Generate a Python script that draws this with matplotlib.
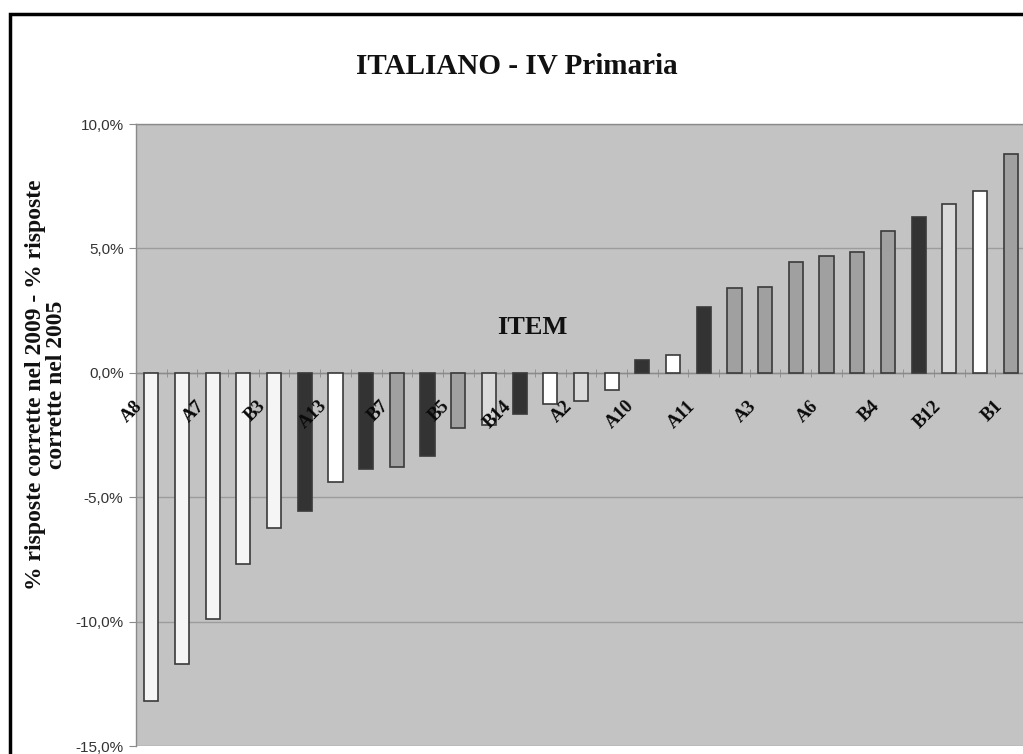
import matplotlib
matplotlib.use("Agg")
import matplotlib.pyplot as plt
from matplotlib.patches import Rectangle
from matplotlib.transforms import ScaledTranslation
from matplotlib.ticker import FuncFormatter

# ---------------- data ----------------
values = [-13.2, -11.7, -9.9, -7.7, -6.25, -5.55, -4.4, -3.85, -3.8, -3.35,
          -2.2, -2.1, -1.65, -1.25, -1.15, -0.7, 0.5, 0.7, 2.65, 3.4,
          3.45, 4.45, 4.7, 4.85, 5.7, 6.25, 6.8, 7.3, 8.8]
# item group of each bar (drives the fill shade)
groups = ['W0', 'W0', 'W0', 'W0', 'W0', 'D', 'W', 'D', 'M', 'D',
          'M', 'L', 'D', 'W', 'L', 'W', 'D', 'W', 'D', 'M',
          'M', 'M', 'M', 'M', 'M', 'D', 'L', 'W', 'M']
tick_labels = ['A8', 'A7', 'B3', 'A13', 'B7', 'B5', 'B14', 'A2', 'A10',
               'A11', 'A3', 'A6', 'B4', 'B12', 'B1']
y_ticks = [-15, -10, -5, 0, 5, 10]

title = "ITALIANO - IV Primaria"
x_title = "ITEM"
y_title = "% risposte corrette nel 2009 - % risposte\ncorrette nel 2005"

# ---------------- style ----------------
palette = {'W0': '#f5f5f5', 'W': '#ffffff', 'L': '#dadada',
           'M': '#a0a0a0', 'D': '#333333'}
serif = ['Liberation Serif', 'DejaVu Serif']
sans = ['Liberation Sans', 'DejaVu Sans']

W, H = 1023, 754
fig = plt.figure(figsize=(W / 100, H / 100), dpi=100)
fig.patch.set_facecolor('white')

left_px, right_px, top_px, bot_px = 136, 1026, 124, 746
ax = fig.add_axes([left_px / W, 1 - bot_px / H,
                   (right_px - left_px) / W, (bot_px - top_px) / H])
ax.set_facecolor('#c3c3c3')

x = list(range(len(values)))
ax.bar(x, values, width=0.46, color=[palette[g] for g in groups],
       edgecolor='#3a3a3a', linewidth=1.2, zorder=3)

ax.set_xlim(-0.5, len(values) - 0.5)
ax.set_ylim(-15, 10)
ax.set_yticks(y_ticks)
ax.yaxis.set_major_formatter(FuncFormatter(lambda v, p: f"{v:.1f}%".replace('.', ',')))
ax.grid(axis='y', color='#9c9c9c', linewidth=1, zorder=1)
ax.set_axisbelow(True)
# x tick labels sit on top of the bars, as in the reference
ax.xaxis.set_zorder(5)

for s in ['left', 'top', 'right']:
    ax.spines[s].set_color('#8a8a8a')
    ax.spines[s].set_linewidth(1)
ax.spines['bottom'].set_position(('data', 0))
ax.spines['bottom'].set_color('#8a8a8a')
ax.spines['bottom'].set_linewidth(1)
ax.spines['bottom'].set_zorder(2)

ax.tick_params(axis='y', direction='out', length=5, color='#8a8a8a',
               labelsize=11, labelcolor='#333333', pad=4)
for lab in ax.get_yticklabels():
    lab.set_fontfamily(sans)

# category boundary ticks
ax.set_xticks([i - 0.5 for i in range(len(values) + 1)], minor=True)
ax.tick_params(axis='x', which='minor', direction='inout', length=6,
               color='#8a8a8a')
# labelled every other item
ax.set_xticks(list(range(0, len(values), 2)))
ax.set_xticklabels(tick_labels, rotation=45, ha='right', va='center',
                   rotation_mode='anchor', fontfamily=serif,
                   fontweight='bold', fontsize=13.5, color='#0a0a0a')
ax.tick_params(axis='x', which='major', length=0, pad=22)
off = ScaledTranslation(-8 / 72, 0, fig.dpi_scale_trans)
for lab in ax.get_xticklabels():
    lab.set_transform(lab.get_transform() + off)

# titles
fig.text(517 / W, 1 - 67 / H, title, ha='center', va='center',
         fontfamily=serif, fontweight='bold', fontsize=21, color='#111111')
fig.text(532 / W, 1 - 328 / H, x_title, ha='center', va='center',
         fontfamily=serif, fontweight='bold', fontsize=19, color='#111111')
fig.text(46 / W, 1 - 385 / H, y_title, ha='center', va='center',
         rotation=90, multialignment='center', linespacing=1.05,
         fontfamily=serif, fontweight='bold', fontsize=17, color='#111111')

# outer chart frame
fig.patches.append(Rectangle((10 / W, -0.1), 1.2, 1 - 14 / H + 0.1,
                             transform=fig.transFigure, fill=False,
                             edgecolor='black', linewidth=2.5))

fig.savefig('out.png', dpi=100)
